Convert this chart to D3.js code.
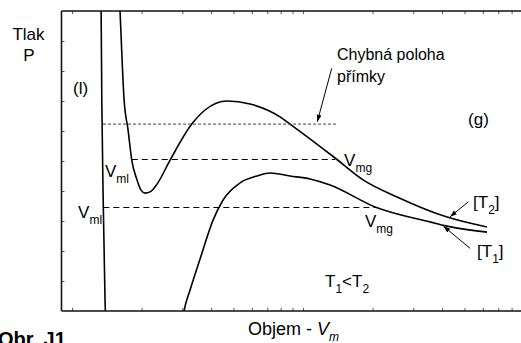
<!DOCTYPE html>
<html><head><meta charset="utf-8">
<script src="https://cdn.jsdelivr.net/npm/d3@7"></script>
<style>
html,body{margin:0;padding:0;background:#fff;overflow:hidden}
svg{display:block;font-family:"Liberation Sans",Arial,sans-serif}
</style></head><body>
<svg id="chart" width="521" height="343"></svg>
<script>
// Van der Waals isotherms: pressure against molar volume (log axis)

// Isotherm T1 (lower temperature): liquid branch, dip below zero, gas branch
const t1Volume   = [1.334, 1.336, 1.345, 1.366, 1.389, 1.406, 1.55, 2.2, 2.7, 2.933, 3.054, 3.243, 3.581, 4.078, 4.505, 5.337, 6.322, 7.197, 8.783, 10.72, 13.09, 20.5, 35.46, 42.02, 62.59];
const t1Pressure = [10.37, 10.0, 7.03, 3.43, 0.37, -0.63, -2.5, -3.5, -2.2, -0.97, 0, 0.7, 1.73, 3.03, 3.7, 4.27, 4.5, 4.6, 4.5, 4.4, 4.2, 3.47, 2.97, 2.83, 2.63];

// Isotherm T2 (higher temperature)
const t2Volume   = [1.605, 1.613, 1.68, 1.748, 1.813, 1.911, 1.989, 2.07, 2.176, 2.333, 2.657, 3.298, 3.765, 4.688, 5.896, 7.953, 8.783, 13.76, 18.19, 25.53, 42.02, 62.59];
const t2Pressure = [10.37, 10.0, 7.03, 6.03, 5.03, 4.37, 4.03, 3.93, 3.97, 4.23, 5.03, 6.23, 6.7, 7.0, 6.9, 6.47, 6.23, 5.1, 4.37, 3.8, 3.13, 2.8];

// Horizontal tie lines: [pressure, V_ml, V_mg]
const tieLineT2 = [5.05, 1.813, 13.76];
const tieLineT1 = [3.45, 1.366, 20.5];
// Misplaced line (dotted)
const wrongLine = [6.23, 1.362, 14.18];

// Axis ticks
const volumeTicks   = [1, 2, 3, 4, 5, 6, 7, 8, 9, 10, 20, 30, 40, 50, 60, 70, 80];
const pressureTicks = [1, 2, 3, 4, 5, 6, 7, 8, 9];

const svg = d3.select("#chart");
const W = 521, H = 343;
const mLeft = 61.5, mTop = 11, mBottom = 311;

const x = d3.scaleLog().domain([0.9, 88]).range([mLeft, 521.2]);
const y = d3.scaleLinear().domain([0, 10]).range([mBottom, mTop]);

const defs = svg.append("defs");
defs.append("clipPath").attr("id", "plot")
  .append("rect").attr("x", mLeft).attr("y", mTop).attr("width", W - mLeft).attr("height", mBottom - mTop);

defs.append("marker")
  .attr("id", "arrow").attr("viewBox", "0 0 10 10").attr("refX", 10).attr("refY", 5)
  .attr("markerWidth", 7).attr("markerHeight", 7).attr("markerUnits", "userSpaceOnUse")
  .attr("orient", "auto")
  .append("path").attr("d", "M0,1.5 L10,5 L0,8.5 Z").attr("fill", "#000");

// Axes: inward ticks, no labels
const axB = svg.append("g").attr("transform", `translate(0,${mBottom})`)
  .call(d3.axisBottom(x).tickValues(volumeTicks).tickSize(-3).tickFormat(""));
const axT = svg.append("g").attr("transform", `translate(0,${mTop})`)
  .call(d3.axisTop(x).tickValues(volumeTicks).tickSize(-3).tickFormat(""));
const axL = svg.append("g").attr("transform", `translate(${mLeft},0)`)
  .call(d3.axisLeft(y).tickValues(pressureTicks).tickSize(-3).tickFormat(""));
[axB, axT, axL].forEach(g => {
  g.select(".domain").remove();
  g.selectAll(".tick line").attr("stroke", "#555").attr("stroke-width", 1);
});

// Frame (open on the right)
const frame = svg.append("g").attr("stroke", "#111").attr("stroke-width", 1.6).attr("fill", "none");
frame.append("line").attr("x1", mLeft).attr("x2", W).attr("y1", mTop).attr("y2", mTop);
frame.append("line").attr("x1", mLeft).attr("x2", W).attr("y1", mBottom).attr("y2", mBottom);
frame.append("line").attr("x1", mLeft).attr("x2", mLeft).attr("y1", mTop).attr("y2", mBottom);

const plot = svg.append("g").attr("clip-path", "url(#plot)");

const line = d3.line().x(d => x(d[0])).y(d => y(d[1])).curve(d3.curveMonotoneX);
const t1 = t1Volume.map((v, i) => [v, t1Pressure[i]]);
const t2 = t2Volume.map((v, i) => [v, t2Pressure[i]]);

plot.append("path").attr("d", line(t1)).attr("fill", "none").attr("stroke", "#000").attr("stroke-width", 1.6);
plot.append("path").attr("d", line(t2)).attr("fill", "none").attr("stroke", "#000").attr("stroke-width", 1.6);

function hline(spec, dash, width, color) {
  plot.append("line")
    .attr("x1", x(spec[1])).attr("x2", x(spec[2]))
    .attr("y1", y(spec[0])).attr("y2", y(spec[0]))
    .attr("stroke", color).attr("stroke-width", width).attr("stroke-dasharray", dash);
}
hline(tieLineT2, "6,4", 1.2, "#000");
hline(tieLineT1, "6,4", 1.2, "#000");
hline(wrongLine, "3,2", 1, "#444");

// Annotation arrows
const arrows = [
  [[13.31, 8.09], [11.53, 6.31]],
  [[51.95, 3.64], [43.29, 3.14]],
  [[52.84, 2.09], [40.5, 2.83]]
];
arrows.forEach(a => {
  svg.append("line")
    .attr("x1", x(a[0][0])).attr("y1", y(a[0][1]))
    .attr("x2", x(a[1][0])).attr("y2", y(a[1][1]))
    .attr("stroke", "#000").attr("stroke-width", 1)
    .attr("marker-end", "url(#arrow)");
});

// Text labels
const fs = 17, sub = 12;
function label(v, p, parts, size) {
  const t = svg.append("text").attr("x", x(v)).attr("y", y(p))
    .attr("font-size", size || fs).attr("fill", "#000");
  let shift = 0;
  parts.forEach(pt => {
    const s = t.append("tspan").text(pt.t);
    if (pt.sub) {
      s.attr("font-size", sub).attr("dy", 6 - shift); shift = 6;
    } else if (shift) {
      s.attr("dy", -shift); shift = 0;
    }
  });
  return t;
}
label(14.03, 8.37, [{t: "Chybná poloha"}], 16);
label(14.03, 7.64, [{t: "přímky"}], 16);
label(51.8, 6.2, [{t: "(g)"}]);
label(1.01, 7.23, [{t: "(l)"}]);
label(1.389, 4.47, [{t: "V"}, {t: "ml", sub: true}]);
label(1.062, 3.1, [{t: "V"}, {t: "ml", sub: true}]);
label(15.05, 4.83, [{t: "V"}, {t: "mg", sub: true}]);
label(18.55, 2.8, [{t: "V"}, {t: "mg", sub: true}]);
label(54.45, 3.43, [{t: "[T"}, {t: "2", sub: true}, {t: "]"}]);
label(56.65, 1.8, [{t: "[T"}, {t: "1", sub: true}, {t: "]"}]);
label(12.45, 0.8, [{t: "T"}, {t: "1", sub: true}, {t: "<T"}, {t: "2", sub: true}]);

// Axis titles
svg.append("text").attr("x", 28.5).attr("y", 40).attr("text-anchor", "middle")
  .attr("font-size", fs).text("Tlak");
svg.append("text").attr("x", 29).attr("y", 61).attr("text-anchor", "middle")
  .attr("font-size", fs).text("P");
const xt = svg.append("text").attr("x", 248).attr("y", 335).attr("font-size", 18);
xt.append("tspan").text("Objem - ");
xt.append("tspan").attr("font-style", "italic").text("V");
xt.append("tspan").attr("font-style", "italic").attr("font-size", 12).attr("dy", 6).text("m");

svg.append("text").attr("x", -2).attr("y", 346).attr("font-size", 20)
  .attr("font-weight", "bold").text("Obr. J1");
</script>
</body></html>
